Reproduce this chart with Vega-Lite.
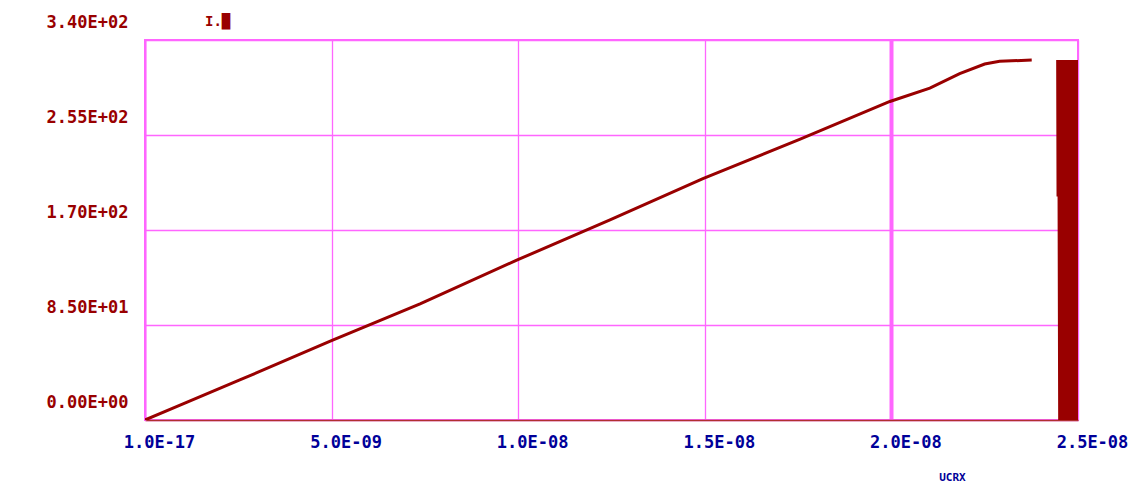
{
  "$schema": "https://vega.github.io/schema/vega-lite/v6.json",
  "autosize": "none",
  "width": 933,
  "height": 380,
  "padding": {"left": 145, "top": 40, "right": 54, "bottom": 66},
  "background": "white",
  "title": {"text": "I.█", "anchor": "start", "frame": "group", "dx": 60, "dy": 22, "offset": 6, "fontSize": 14, "font": "DejaVu Sans Mono", "fontWeight": "bold", "color": "#990000"},
  "config": {"view": {"stroke": "#ff66ff", "strokeWidth": 2}},
  "data": {"values": [
    {"x": 0, "y": 0, "seg": "a"},
    {"x": 9.4e-10, "y": 13.4, "seg": "a"},
    {"x": 2.54e-9, "y": 35.8, "seg": "a"},
    {"x": 4.98e-9, "y": 70.7, "seg": "a"},
    {"x": 7.37e-9, "y": 104, "seg": "a"},
    {"x": 9.96e-9, "y": 143, "seg": "a"},
    {"x": 1.246e-8, "y": 179, "seg": "a"},
    {"x": 1.495e-8, "y": 216, "seg": "a"},
    {"x": 1.754e-8, "y": 251, "seg": "a"},
    {"x": 1.996e-8, "y": 285, "seg": "a"},
    {"x": 2.103e-8, "y": 297, "seg": "a"},
    {"x": 2.183e-8, "y": 310, "seg": "a"},
    {"x": 2.25e-8, "y": 318.5, "seg": "a"},
    {"x": 2.29e-8, "y": 321, "seg": "a"},
    {"x": 2.376e-8, "y": 322, "seg": "a"},
    {"x": 2.4455e-8, "y": 322, "seg": "b"},
    {"x": 2.4465e-8, "y": 200, "seg": "b"},
    {"x": 2.4482e-8, "y": 322, "seg": "b"},
    {"x": 2.4509e-8, "y": 0, "seg": "b"},
    {"x": 2.4536e-8, "y": 322, "seg": "b"},
    {"x": 2.4563e-8, "y": 0, "seg": "b"},
    {"x": 2.459e-8, "y": 322, "seg": "b"},
    {"x": 2.4616e-8, "y": 0, "seg": "b"},
    {"x": 2.4643e-8, "y": 322, "seg": "b"},
    {"x": 2.467e-8, "y": 0, "seg": "b"},
    {"x": 2.4697e-8, "y": 322, "seg": "b"},
    {"x": 2.4723e-8, "y": 0, "seg": "b"},
    {"x": 2.475e-8, "y": 322, "seg": "b"},
    {"x": 2.4777e-8, "y": 0, "seg": "b"},
    {"x": 2.4803e-8, "y": 322, "seg": "b"},
    {"x": 2.483e-8, "y": 0, "seg": "b"},
    {"x": 2.4857e-8, "y": 322, "seg": "b"},
    {"x": 2.4884e-8, "y": 0, "seg": "b"},
    {"x": 2.4911e-8, "y": 322, "seg": "b"},
    {"x": 2.4938e-8, "y": 0, "seg": "b"},
    {"x": 2.4964e-8, "y": 322, "seg": "b"},
    {"x": 2.4991e-8, "y": 0, "seg": "b"}
  ]},
  "mark": {"type": "line", "color": "#990000", "strokeWidth": 3, "clip": true},
  "encoding": {
    "detail": {"field": "seg", "type": "nominal"},
    "x": {
      "field": "x", "type": "quantitative",
      "scale": {"domain": [0, 2.5e-8], "nice": false, "zero": false},
      "axis": {
        "values": [0, 5e-9, 1e-8, 1.5e-8, 2e-8, 2.5e-8],
        "labelExpr": "datum.value < 1e-9 ? '1.0E-17' : datum.value < 7e-9 ? '5.0E-09' : datum.value < 1.2e-8 ? '1.0E-08' : datum.value < 1.7e-8 ? '1.5E-08' : datum.value < 2.2e-8 ? '2.0E-08' : '2.5E-08'",
        "labelFlush": false,
        "labelOffset": 14,
        "labelPadding": 14,
        "labelFont": "DejaVu Sans Mono",
        "labelFontWeight": "bold",
        "labelFontSize": 17,
        "labelColor": "#000099",
        "ticks": false,
        "domainColor": "#b03030",
        "domainWidth": 1.5,
        "grid": true,
        "gridColor": "#ff66ff",
        "gridWidth": {"condition": {"test": "datum.value > 1.9e-8 && datum.value < 2.1e-8", "value": 4}, "value": 1.3},
        "gridOpacity": 1,
        "title": "UCRX",
        "titleFont": "DejaVu Sans Mono",
        "titleFontWeight": "bold",
        "titleFontSize": 11,
        "titleColor": "#000099",
        "titleX": 807,
        "titleY": 57,
        "titleBaseline": "middle",
        "titleAlign": "center"
      }
    },
    "y": {
      "field": "y", "type": "quantitative",
      "scale": {"domain": [0, 340], "nice": false},
      "axis": {
        "values": [0, 85, 170, 255, 340],
        "labelExpr": "datum.value == 0 ? '0.00E+00' : datum.value == 85 ? '8.50E+01' : datum.value == 170 ? '1.70E+02' : datum.value == 255 ? '2.55E+02' : '3.40E+02'",
        "labelFlush": false,
        "labelOffset": -18,
        "labelPadding": 17,
        "labelFont": "DejaVu Sans Mono",
        "labelFontWeight": "bold",
        "labelFontSize": 17,
        "labelColor": "#990000",
        "ticks": false,
        "domainColor": "#ff66ff",
        "domainWidth": 2,
        "grid": true,
        "gridColor": "#ff66ff",
        "gridWidth": 1.3,
        "gridOpacity": 1,
        "title": null
      }
    }
  }
}
